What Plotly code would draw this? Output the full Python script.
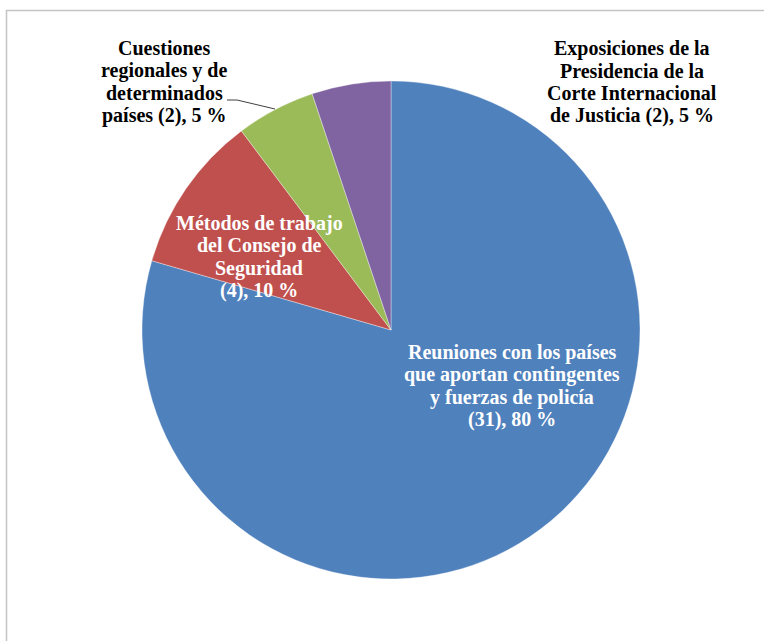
import plotly.graph_objects as go

W, H = 764, 641

# ---- data ----
categories = [
    "Reuniones con los países que aportan contingentes y fuerzas de policía",
    "Métodos de trabajo del Consejo de Seguridad",
    "Cuestiones regionales y de determinados países",
    "Exposiciones de la Presidencia de la Corte Internacional de Justicia",
]
label_lines = [
    ["Reuniones con los países", "que aportan contingentes", "y fuerzas de policía"],
    ["Métodos de trabajo", "del Consejo de", "Seguridad"],
    ["Cuestiones", "regionales y de", "determinados"],
    ["Exposiciones de la", "Presidencia de la", "Corte Internacional"],
]
last_line_prefix = ["", "", "países ", "de Justicia "]
values = [31, 4, 2, 2]
percents = [80, 10, 5, 5]
colors = ["#4F81BD", "#C0504D", "#9BBB59", "#8064A2"]
label_colors = ["white", "white", "black", "black"]

# ---- layout helpers (pixel -> paper) ----
def px(x):
    return x / W

def py(y):
    return 1 - y / H

cx, cy, r = 391, 330, 249

fig = go.Figure(
    go.Pie(
        labels=categories,
        values=values,
        sort=False,
        direction="clockwise",
        rotation=0,
        textinfo="none",
        hoverinfo="label+value+percent",
        marker=dict(colors=colors, line=dict(color="rgba(255,255,255,0.6)", width=0.6)),
        domain=dict(x=[px(cx - r), px(cx + r)], y=[py(cy + r), py(cy - r)]),
        showlegend=False,
    )
)

label_pos = [(512, 352), (259, 223), (164, 48), (632, 48)]
line_gap = 22.6
annotations = []
for i, lines in enumerate(label_lines):
    all_lines = lines + [f"{last_line_prefix[i]}({values[i]}), {percents[i]} %"]
    lx, ly = label_pos[i]
    for j, t in enumerate(all_lines):
        annotations.append(
            dict(
                x=px(lx), y=py(ly + j * line_gap), xref="paper", yref="paper",
                text=f"<b>{t}</b>", showarrow=False, xanchor="center", yanchor="middle",
                font=dict(family="Liberation Serif", size=20, color=label_colors[i]),
            )
        )

shapes = [
    dict(type="rect", xref="paper", yref="paper", x0=px(6.5), y0=py(700), x1=px(800), y1=py(10.5),
         line=dict(color="#c4c4c4", width=1.5), fillcolor="rgba(0,0,0,0)", layer="below"),
    dict(type="path", xref="paper", yref="paper",
         path=f"M {px(227)} {py(100)} L {px(237)} {py(100)} L {px(275)} {py(109)}",
         line=dict(color="#404040", width=1)),
]

fig.update_layout(
    width=W, height=H,
    margin=dict(l=0, r=0, t=0, b=0),
    paper_bgcolor="white", plot_bgcolor="white",
    annotations=annotations, shapes=shapes,
)

fig.write_html("out.html")
